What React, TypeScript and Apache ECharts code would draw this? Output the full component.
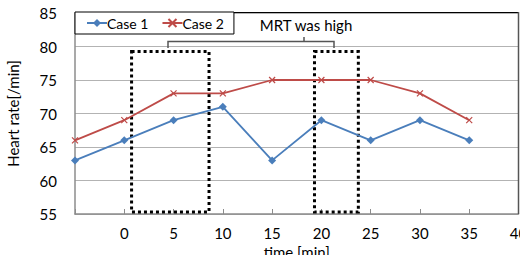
import React, { useEffect, useRef } from "react";
import * as echarts from "echarts";

const times = [-5, 0, 5, 10, 15, 20, 25, 30, 35];
const case1 = [63, 66, 69, 71, 63, 69, 66, 69, 66];
const case2 = [66, 69, 73, 73, 75, 75, 75, 73, 69];
const seriesNames = ["Case 1", "Case 2"];
// periods when MRT was high: [xStart, xEnd, yBottom, yTop]
const highMrtBoxes = [
  [0.74, 8.6, 55.3, 79.25],
  [19.3, 23.75, 55.3, 79.25],
];
const annotationText = "MRT was high";

const FONT = "Lato, 'Open Sans', sans-serif";

export default function App() {
  const ref = useRef<HTMLDivElement>(null);
  useEffect(() => {
    document.body.style.margin = "0";
    const chart = echarts.init(ref.current!, null, { renderer: "svg" });
    const xMark = "path://M0,0L10,10M10,0L0,10";
    chart.setOption({
      animation: false,
      textStyle: { fontFamily: FONT },
      grid: {
        left: 75,
        top: 13,
        right: 1.5,
        bottom: 41,
        containLabel: false,
        outerBoundsMode: "none",
      },
      legend: {
        left: 75,
        top: 12,
        orient: "horizontal",
        data: seriesNames,
        itemWidth: 20,
        itemHeight: 10,
        itemGap: 13,
        padding: [4, 10, 4, 11],
        borderColor: "#000",
        borderWidth: 1,
        backgroundColor: "#fff",
        textStyle: { fontFamily: FONT, fontSize: 14, color: "#000", padding: [0, 0, 0, -5] },
      },
      xAxis: {
        type: "value",
        min: -5,
        max: 40,
        interval: 5,
        name: "time [min]",
        nameLocation: "middle",
        nameGap: 26,
        nameTextStyle: { fontFamily: FONT, fontSize: 15, color: "#000" },
        axisLine: { show: true, onZero: false, lineStyle: { color: "#8c8c8c", width: 1.5 } },
        axisTick: { show: true, inside: true, length: 5, lineStyle: { color: "#8c8c8c" } },
        axisLabel: {
          fontFamily: FONT,
          fontSize: 15,
          color: "#000",
          margin: 11,
          formatter: (v: number) => (v < 0 ? "" : String(v)),
        },
        splitLine: { show: false },
      },
      yAxis: {
        type: "value",
        min: 55,
        max: 85,
        interval: 5,
        name: "Heart rate[/min]",
        nameLocation: "middle",
        nameGap: 55,
        nameRotate: 90,
        nameTextStyle: { fontFamily: FONT, fontSize: 15, color: "#000" },
        axisLine: { show: true, onZero: false, lineStyle: { color: "#8c8c8c", width: 1.5 } },
        axisTick: { show: false },
        axisLabel: { fontFamily: FONT, fontSize: 15, color: "#000", margin: 18 },
        splitLine: { show: true, lineStyle: { color: "#b3b3b3", width: 1.2 } },
      },
      series: [
        {
          name: seriesNames[0],
          type: "line",
          data: times.map((t, i) => [t, case1[i]]),
          symbol: "diamond",
          symbolSize: 8,
          clip: false,
          lineStyle: { color: "#4a7ebb", width: 1.8 },
          itemStyle: { color: "#4a7ebb" },
          markArea: {
            silent: true,
            itemStyle: {
              color: "rgba(0,0,0,0)",
              borderColor: "#000",
              borderWidth: 3,
              borderType: [3, 3],
            },
            data: highMrtBoxes.map((b) => [
              { coord: [b[0], b[3]] },
              { coord: [b[1], b[2]] },
            ]),
          },
          z: 3,
        },
        {
          name: seriesNames[1],
          type: "line",
          data: times.map((t, i) => [t, case2[i]]),
          symbol: xMark,
          symbolSize: 6,
          clip: false,
          lineStyle: { color: "#be4b48", width: 1.8 },
          itemStyle: { color: "rgba(0,0,0,0)", borderColor: "#be4b48", borderWidth: 1.2 },
          z: 3,
        },
      ],
      graphic: [
        {
          type: "line",
          shape: { x1: 75, y1: 12.5, x2: 518.5, y2: 12.5 },
          style: { stroke: "#000", lineWidth: 1.2 },
          z: 1,
        },
        {
          type: "line",
          shape: { x1: 518.5, y1: 12, x2: 518.5, y2: 214 },
          style: { stroke: "#555", lineWidth: 1.5 },
          z: 1,
        },
        {
          type: "polyline",
          shape: { points: [[168, 48], [168, 41.5], [334, 41.5], [334, 48]] },
          style: { stroke: "#555", lineWidth: 1.5, fill: null },
          z: 10,
        },
        {
          type: "line",
          shape: { x1: 304, y1: 41.5, x2: 304, y2: 37 },
          style: { stroke: "#555", lineWidth: 1.5 },
          z: 10,
        },
        {
          type: "text",
          x: 306,
          y: 25,
          style: {
            text: annotationText,
            fontFamily: FONT,
            fontSize: 15,
            fill: "#000",
            align: "center",
            verticalAlign: "middle",
          },
          z: 10,
        },
      ],
    });
    return () => chart.dispose();
  }, []);
  return (
    <div
      ref={ref}
      style={{ position: "absolute", left: 0, top: 0, width: 520, height: 255, background: "#fff" }}
    />
  );
}
